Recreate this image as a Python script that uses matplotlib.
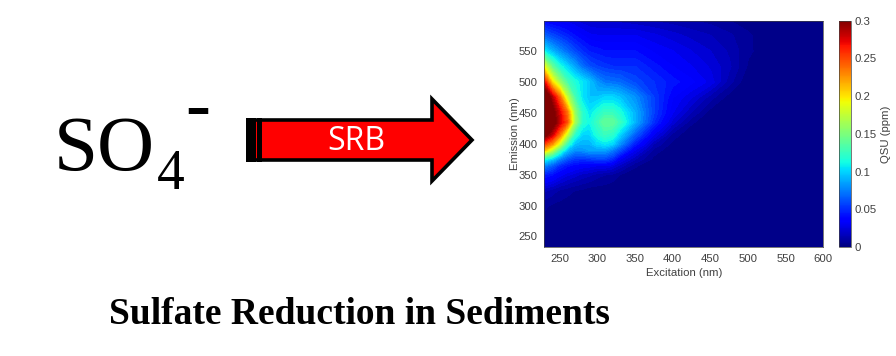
#!/usr/bin/env python3
import numpy as np
import matplotlib
matplotlib.use('Agg')
import matplotlib.pyplot as plt
from matplotlib.patches import Polygon, Rectangle

###############################################################################
#                                     Data                                    #
###############################################################################
excitation = [230, 240, 250, 260, 270, 280, 290, 300, 310, 320, 330, 350, 375, 400, 425, 450, 475, 500, 525, 600]
emission   = [233, 275, 300, 325, 350, 365, 375, 390, 400, 415, 435, 450, 475, 500, 525, 550, 575, 599]

# QSU (ppm), one row per emission value
qsu = [
    [.002, .001, .001, .000, .000, .000, .000, .000, .000, .000, .000, .000, .000, .000, .000, .000, .000, .000, .000, 0],
    [.003, .002, .002, .001, .001, .000, .000, .000, .000, .000, .000, .000, .000, .000, .000, .000, .000, .000, .000, 0],
    [.006, .004, .003, .002, .002, .001, .001, .000, .000, .000, .000, .000, .000, .000, .000, .000, .000, .000, .000, 0],
    [.016, .013, .009, .007, .005, .004, .002, .002, .002, .001, .001, .000, .000, .000, .000, .000, .000, .000, .000, 0],
    [.045, .040, .032, .026, .022, .018, .016, .012, .010, .008, .005, .001, .000, .000, .000, .000, .000, .000, .000, 0],
    [.075, .065, .050, .042, .037, .034, .032, .030, .030, .026, .018, .006, .000, .000, .000, .000, .000, .000, .000, 0],
    [.110, .095, .075, .060, .052, .050, .052, .055, .055, .048, .030, .015, .003, .000, .000, .000, .000, .000, .000, 0],
    [.210, .175, .130, .095, .080, .080, .085, .085, .085, .075, .060, .030, .008, .001, .000, .000, .000, .000, .000, 0],
    [.250, .225, .180, .125, .095, .090, .090, .100, .105, .100, .080, .045, .015, .003, .000, .000, .000, .000, .000, 0],
    [.310, .280, .235, .175, .120, .100, .100, .115, .125, .120, .100, .065, .030, .008, .000, .000, .000, .000, .000, 0],
    [.360, .315, .280, .245, .165, .120, .110, .125, .140, .140, .125, .090, .050, .022, .006, .000, .000, .000, .000, 0],
    [.360, .310, .275, .235, .160, .120, .105, .115, .125, .125, .115, .090, .055, .030, .014, .002, .000, .000, .000, 0],
    [.330, .285, .240, .175, .130, .105, .095, .095, .100, .100, .095, .080, .055, .035, .025, .012, .002, .000, .000, 0],
    [.265, .200, .160, .130, .115, .105, .095, .080, .072, .070, .068, .058, .050, .042, .036, .028, .012, .000, .000, 0],
    [.185, .140, .115, .100, .085, .070, .060, .055, .052, .050, .050, .050, .042, .035, .030, .024, .016, .004, .000, 0],
    [.105, .090, .078, .068, .058, .050, .044, .042, .040, .040, .040, .040, .034, .030, .025, .020, .014, .006, .002, 0],
    [.065, .058, .052, .046, .040, .035, .031, .030, .030, .030, .030, .030, .026, .022, .018, .015, .011, .006, .001, 0],
    [.035, .032, .030, .028, .025, .022, .020, .019, .018, .018, .018, .016, .014, .012, .010, .008, .005, .002, .001, 0],
]

x_ticks   = [250, 300, 350, 400, 450, 500, 550, 600]
y_ticks   = [250, 300, 350, 400, 450, 500, 550]
cbar_ticks  = [0, 0.05, 0.1, 0.15, 0.2, 0.25, 0.3]
cbar_labels = ['0', '0.05', '0.1', '0.15', '0.2', '0.25', '0.3']

W, H = 896, 356
gray = '#404040'

###############################################################################
#                                   Figure                                    #
###############################################################################
plt.rcParams['font.family'] = ['Liberation Sans', 'DejaVu Sans']

fig = plt.figure(figsize=(W/100, H/100), dpi=100)

# Overlay in pixel coordinates for the drawing on the left
bg = fig.add_axes([0, 0, 1, 1])
bg.set_xlim(0, W)
bg.set_ylim(H, 0)
bg.axis('off')

# Arrow
arrow_pts = [(248, 120), (432, 120), (432, 99), (472, 140), (432, 181), (432, 160), (248, 160)]
bg.add_patch(Polygon(arrow_pts, closed=True, facecolor='#ff0000', edgecolor='black', linewidth=2.6, joinstyle='miter'))
bg.add_patch(Rectangle((246, 118), 10, 44, facecolor='black', edgecolor='none'))
bg.add_patch(Rectangle((257, 118), 5, 44, facecolor='black', edgecolor='none'))
bg.text(356, 141, 'SRB', color='white', fontsize=23, family='Open Sans', ha='center', va='center')

# Formula
serif = 'Liberation Serif'
bg.text(54, 170, 'SO', fontsize=57, family=serif, ha='left', va='baseline', color='black')
bg.text(157, 189, '4', fontsize=40, family=serif, ha='left', va='baseline', color='black')
bg.text(185, 128, '-', fontsize=54, family=serif, weight='bold', ha='left', va='baseline', color='black')

bg.text(359, 324, 'Sulfate Reduction in Sediments', fontsize=27, family=serif, weight='bold',
        ha='center', va='baseline', color='black')

###############################################################################
#                                   Heat map                                  #
###############################################################################
ax = fig.add_axes([544.3/W, 1 - 247/H, 279/W, 226.3/H])
levels = np.linspace(0, 0.3, 61)
cs = ax.contourf(excitation, emission, np.array(qsu), levels=levels, cmap='jet', extend='max')
cs.set_edgecolor('face')                                                        # Hides the seams between levels
cs.set_linewidth(0.6)
ax.set_xlim(230, 600)
ax.set_ylim(233, 599)
ax.set_xticks(x_ticks)
ax.set_yticks(y_ticks)
ax.tick_params(labelsize=8.2, colors=gray, length=0, pad=5)
ax.set_xlabel('Excitation (nm)', fontsize=8.2, color=gray, labelpad=3)
ax.set_ylabel('Emission (nm)', fontsize=8.2, color=gray, labelpad=-1)
for s in ax.spines.values():
    s.set_color(gray)
    s.set_linewidth(0.5)

cax = fig.add_axes([838.7/W, 1 - 247/H, 12/W, 226.3/H])
sm = plt.cm.ScalarMappable(cmap='jet', norm=plt.Normalize(0, 0.3))
cbar = fig.colorbar(sm, cax=cax)
cbar.set_ticks(cbar_ticks)
cbar.set_ticklabels(cbar_labels)
cbar.ax.tick_params(labelsize=8.2, colors=gray, length=0, pad=3)
cbar.set_label('QSU (ppm)', fontsize=8.2, color=gray, labelpad=3)
cbar.outline.set_edgecolor(gray)
cbar.outline.set_linewidth(0.5)

fig.savefig('out.png', dpi=100)
